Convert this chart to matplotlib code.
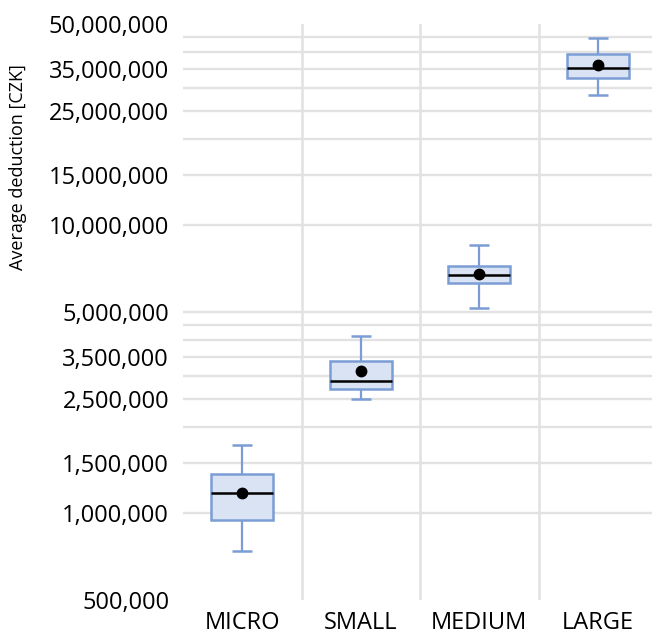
import matplotlib.pyplot as plt
from matplotlib.ticker import FixedLocator, NullLocator

# company size groups and their deduction statistics (CZK)
categories = ["MICRO", "SMALL", "MEDIUM", "LARGE"]
whisker_low = [738_000, 2_500_000, 5_150_000, 28_400_000]
q1 = [948_000, 2_700_000, 6_290_000, 32_400_000]
median = [1_173_000, 2_887_000, 6_710_000, 35_200_000]
q3 = [1_373_000, 3_380_000, 7_240_000, 39_250_000]
whisker_high = [1_730_000, 4_140_000, 8_550_000, 44_800_000]
mean = [1_180_000, 3_110_000, 6_760_000, 36_000_000]

tick_values = [500_000, 1_000_000, 1_500_000, 2_500_000, 3_500_000, 5_000_000,
               10_000_000, 15_000_000, 25_000_000, 35_000_000, 50_000_000]
grid_values = [1_000_000, 1_500_000, 2_000_000, 2_500_000, 3_000_000,
               3_500_000, 4_000_000, 4_500_000, 5_000_000, 10_000_000,
               15_000_000, 20_000_000, 25_000_000, 30_000_000, 35_000_000,
               40_000_000, 45_000_000]

plt.rcParams['font.family'] = ['Open Sans', 'DejaVu Sans']

fig = plt.figure(figsize=(6.52, 6.40), dpi=100)
ax = fig.add_axes([0.2807, 0.0625, 0.727, 0.9])

blue = "#7B9DD5"
fill = "#DAE3F3"
grid_col = "#E2E2E2"

ax.set_yscale("log")
ax.set_ylim(500_000, 50_000_000)
ax.set_xlim(-0.5, 3.5)

for v in grid_values:
    ax.axhline(v, color=grid_col, lw=1.7, zorder=0)
for b in [0.5, 1.5, 2.5]:
    ax.axvline(b, color=grid_col, lw=1.9, zorder=0)

x = list(range(len(categories)))
box_w = 0.52
cap_w = 0.17

# whiskers with caps
ax.vlines(x, q3, whisker_high, color=blue, lw=1.6, zorder=2)
ax.vlines(x, whisker_low, q1, color=blue, lw=1.6, zorder=2)
ax.hlines(whisker_high, [i - cap_w / 2 for i in x], [i + cap_w / 2 for i in x],
          color=blue, lw=1.8, zorder=2)
ax.hlines(whisker_low, [i - cap_w / 2 for i in x], [i + cap_w / 2 for i in x],
          color=blue, lw=1.8, zorder=2)

# boxes
heights = [h - l for h, l in zip(q3, q1)]
ax.bar(x, heights, bottom=q1, width=box_w, color=fill, edgecolor=blue,
       linewidth=1.8, zorder=3)

# medians and means
ax.hlines(median, [i - box_w / 2 for i in x], [i + box_w / 2 for i in x],
          color="black", lw=1.8, zorder=4)
ax.plot(x, mean, "o", color="black", markersize=7.5, zorder=5)

ax.yaxis.set_major_locator(FixedLocator(tick_values))
ax.yaxis.set_minor_locator(NullLocator())
ax.set_yticklabels([f"{v:,}" for v in tick_values])
ax.set_xticks(x)
ax.set_xticklabels(categories)
ax.tick_params(axis="both", length=0, labelsize=17, colors="black")
ax.tick_params(axis="y", pad=10)
ax.tick_params(axis="x", pad=8)

for s in ax.spines.values():
    s.set_visible(False)

fig.text(0.028, 0.739, "Average deduction [CZK]", rotation=90,
         ha="center", va="center", fontsize=13)

fig.savefig("out.png", dpi=100)
